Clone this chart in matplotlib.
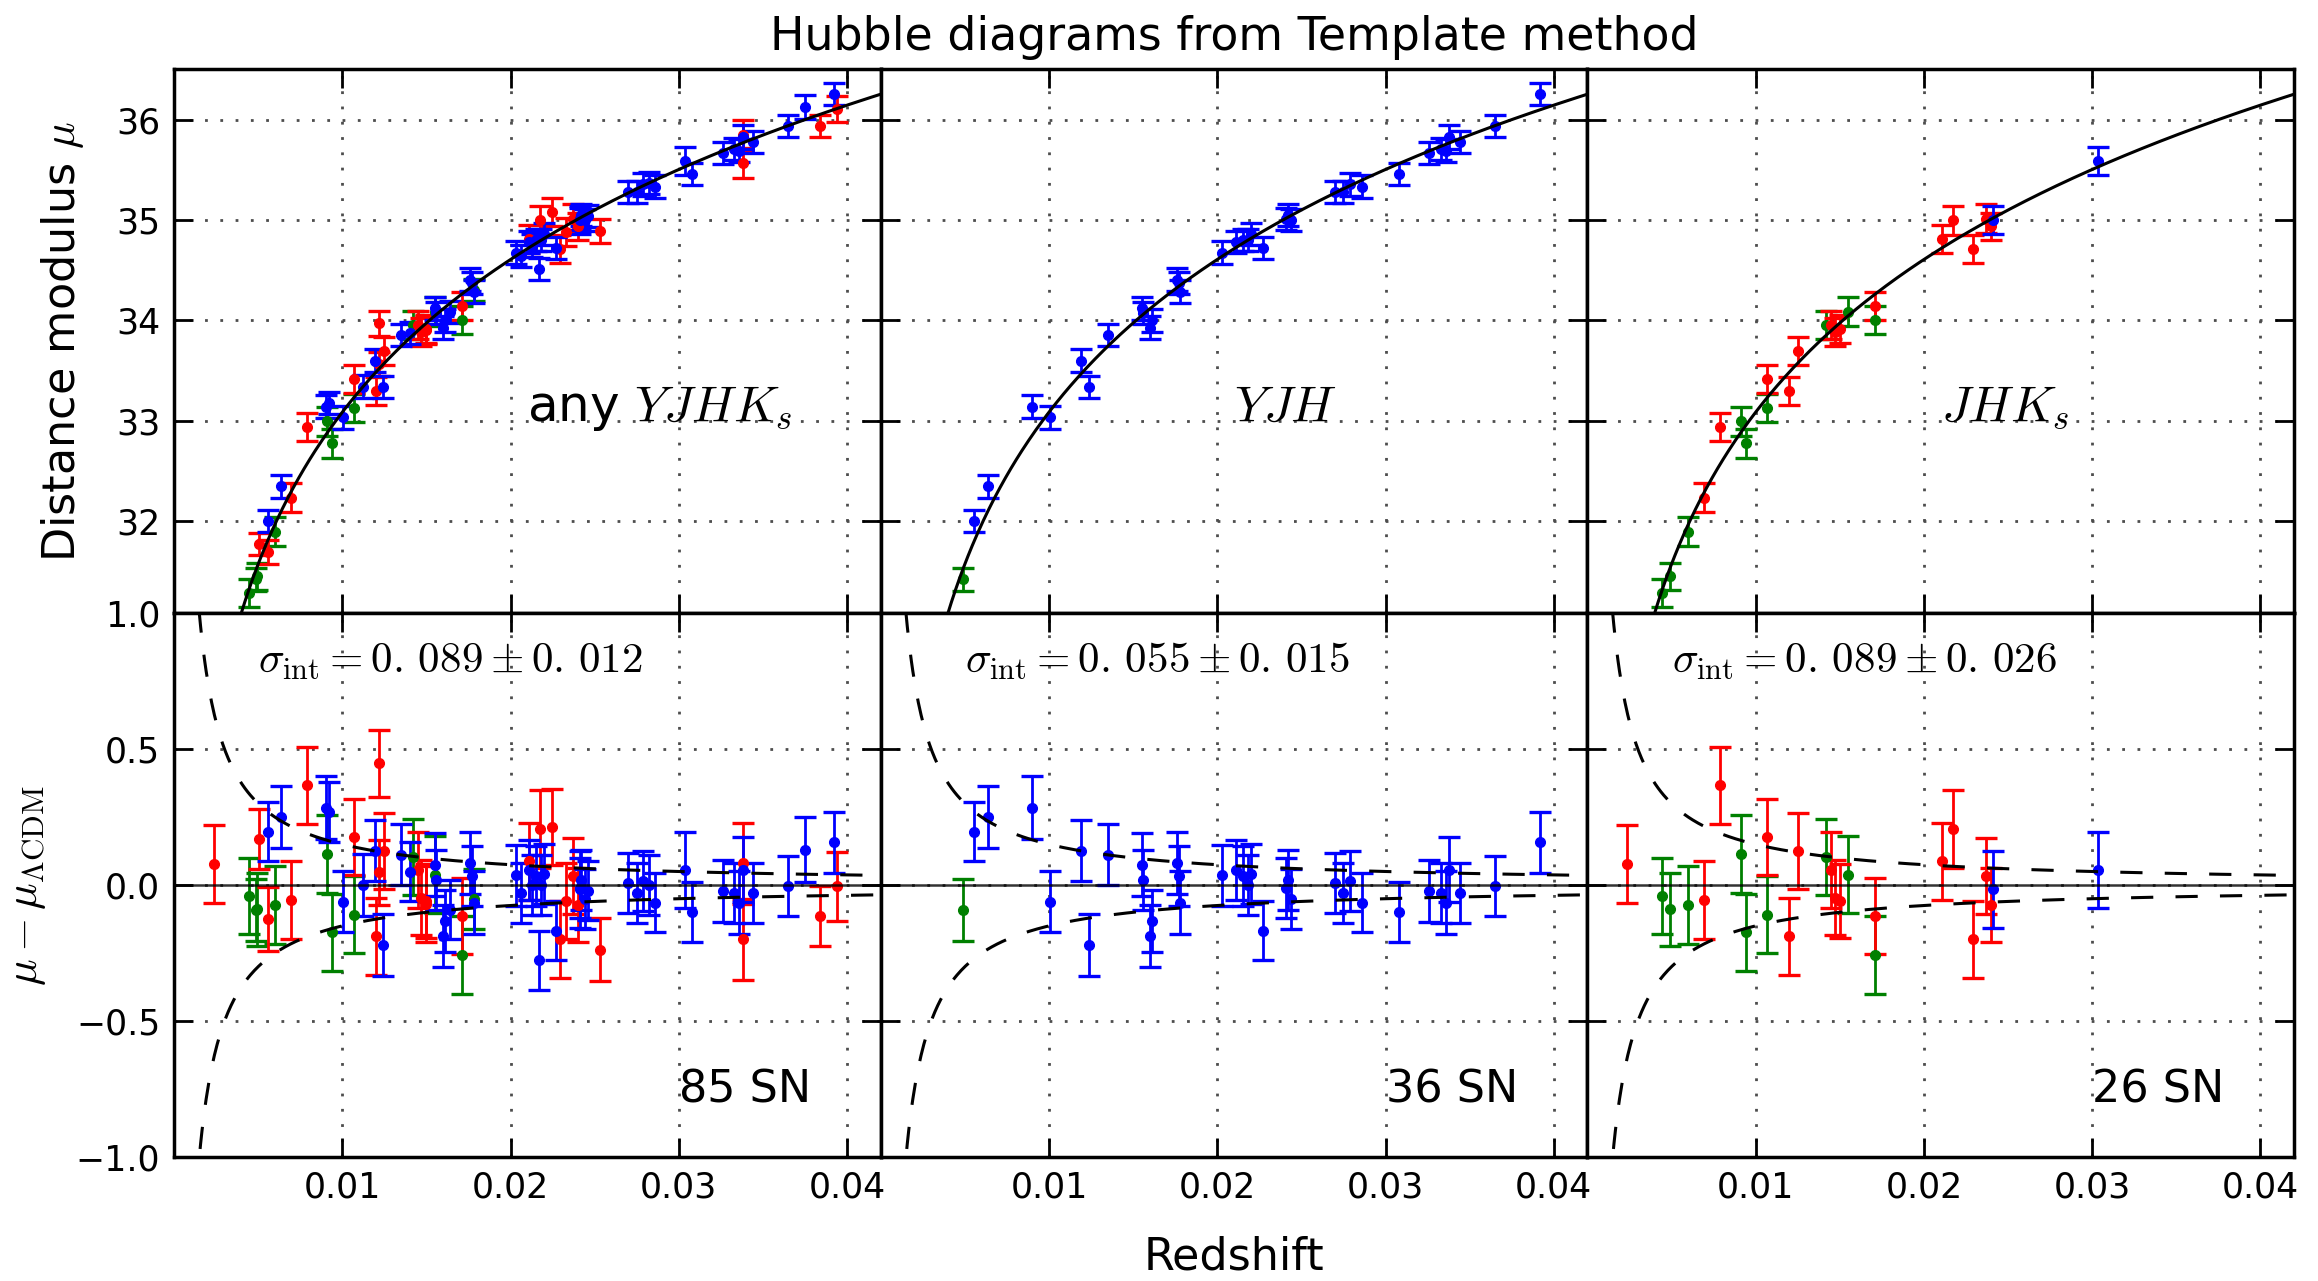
import numpy as np
import matplotlib
matplotlib.use("Agg")
import matplotlib.pyplot as plt

plt.rcParams['mathtext.fontset'] = 'cm'
plt.rcParams['font.family'] = ['DejaVu Sans']
plt.rcParams['lines.scale_dashes'] = False

# SNe with YJH light curves: redshift, Hubble residual, error, sample colour
z_yjh = [0.00486, 0.00556, 0.00635, 0.00900, 0.01004, 0.01193, 0.01239, 0.01350,
         0.01550, 0.01556, 0.01610, 0.01600, 0.01760, 0.01770, 0.01780, 0.02030,
         0.02110, 0.02150, 0.02180, 0.02200, 0.02270, 0.02410, 0.02420, 0.02440,
         0.02700, 0.02750, 0.02786, 0.02860, 0.03080, 0.03260, 0.03330, 0.03360,
         0.03380, 0.03440, 0.03650, 0.03920]
res_yjh = [-0.091, 0.197, 0.251, 0.285, -0.061, 0.127, -0.220, 0.112,
           0.075, 0.020, -0.131, -0.188, 0.081, 0.033, -0.064, 0.036,
           0.057, 0.033, 0.000, 0.040, -0.167, -0.010, 0.020, -0.050,
           0.008, -0.030, 0.015, -0.064, -0.100, -0.022, -0.030, -0.064,
           0.057, -0.028, -0.004, 0.157]
err_yjh = [0.114, 0.110, 0.114, 0.115, 0.113, 0.113, 0.113, 0.113,
           0.115, 0.110, 0.114, 0.113, 0.113, 0.110, 0.115, 0.112,
           0.110, 0.110, 0.110, 0.110, 0.110, 0.110, 0.110, 0.110,
           0.110, 0.110, 0.112, 0.110, 0.110, 0.113, 0.110, 0.115,
           0.120, 0.110, 0.110, 0.113]
col_yjh = ['g'] + ['b'] * 35

# SNe with JHKs light curves
z_jhk = [0.00237, 0.00446, 0.00492, 0.00600, 0.00695, 0.00790, 0.00910, 0.00940,
         0.01070, 0.01070, 0.01200, 0.01250, 0.01420, 0.01450, 0.01470, 0.01500,
         0.01550, 0.01710, 0.01710, 0.02107, 0.02175, 0.02294, 0.02370, 0.02400,
         0.02410, 0.03034]
res_jhk = [0.078, -0.040, -0.089, -0.074, -0.056, 0.367, 0.115, -0.174,
           0.178, -0.109, -0.189, 0.124, 0.103, 0.057, -0.046, -0.058,
           0.039, -0.115, -0.258, 0.087, 0.205, -0.200, 0.033, -0.074,
           -0.016, 0.055]
err_jhk = [0.143, 0.140, 0.135, 0.143, 0.143, 0.142, 0.143, 0.143,
           0.140, 0.141, 0.143, 0.140, 0.140, 0.140, 0.137, 0.137,
           0.143, 0.140, 0.143, 0.140, 0.143, 0.143, 0.140, 0.137,
           0.140, 0.140]
col_jhk = ['r', 'g', 'g', 'g', 'r', 'r', 'g', 'g',
           'r', 'g', 'r', 'r', 'g', 'r', 'r', 'r',
           'g', 'r', 'g', 'r', 'r', 'r', 'r', 'r',
           'b', 'b']

# remaining SNe that only enter the "any band" sample
z_oth = [0.00507, 0.00559, 0.00920, 0.01123, 0.01220, 0.01220, 0.01400, 0.01500,
         0.01640, 0.01780, 0.02060, 0.02130, 0.02170, 0.02246, 0.02330, 0.02460,
         0.02530, 0.02820, 0.03380, 0.03380, 0.03750, 0.03840, 0.03940]
res_oth = [0.169, -0.125, 0.270, 0.000, 0.448, 0.047, 0.050, -0.070,
           -0.090, -0.050, -0.030, 0.000, -0.277, 0.215, -0.060, -0.020,
           -0.237, 0.000, -0.200, 0.080, 0.130, -0.113, -0.004]
err_oth = [0.110, 0.117, 0.110, 0.115, 0.124, 0.120, 0.110, 0.140,
           0.110, 0.110, 0.110, 0.110, 0.110, 0.140, 0.140, 0.110,
           0.117, 0.110, 0.150, 0.150, 0.120, 0.110, 0.127]
col_oth = ['r', 'r', 'b', 'b', 'r', 'r', 'b', 'r',
           'b', 'g', 'b', 'b', 'b', 'r', 'r', 'b',
           'r', 'b', 'r', 'r', 'b', 'r', 'r']

panel_labels = ['any $YJHK_s$', '$YJH$', '$JHK_s$']
sigma_labels = [r'$\sigma_{\rm int} = 0.\,089 \pm 0.\,012$',
                r'$\sigma_{\rm int} = 0.\,055 \pm 0.\,015$',
                r'$\sigma_{\rm int} = 0.\,089 \pm 0.\,026$']
count_labels = ['85 SN', '36 SN', '26 SN']

colours = {'b': (0, 0, 1), 'r': (1, 0, 0), 'g': (0, 0.5, 0)}

c_kms = 299792.458
H0 = 73.0
q0 = -0.55
v_pec = 207.0


def mu_model(z):
    z = np.asarray(z)
    dl = c_kms * z / H0 * (1 + 0.5 * (1 - q0) * z)
    return 5 * np.log10(dl) + 25


samples = [
    (z_yjh + z_jhk + z_oth, res_yjh + res_jhk + res_oth,
     err_yjh + err_jhk + err_oth, col_yjh + col_jhk + col_oth),
    (z_yjh, res_yjh, err_yjh, col_yjh),
    (z_jhk, res_jhk, err_jhk, col_jhk),
]

fig = plt.figure(figsize=(23.18, 12.81), dpi=100)
gs = fig.add_gridspec(2, 3, left=0.0751, right=0.9897, top=0.9458,
                      bottom=0.0968, wspace=0, hspace=0)

zz = np.linspace(0.001, 0.042, 500)
env = 5 / np.log(10) * v_pec / (c_kms * zz)
grid_style = dict(color='0.3', linestyle=(0, (2, 9)), linewidth=2.0)

for j in range(3):
    ax_t = fig.add_subplot(gs[0, j])
    ax_b = fig.add_subplot(gs[1, j], sharex=ax_t)
    z, res, err, col = [np.asarray(a) for a in samples[j]]
    mu = mu_model(z) + res

    for key in ['g', 'r', 'b']:
        m = col == key
        if not m.any():
            continue
        kw = dict(fmt='o', color=colours[key], ms=7, elinewidth=2.0,
                  capsize=8, capthick=2.4, zorder=2)
        ax_t.errorbar(z[m], mu[m], yerr=err[m], **kw)
        ax_b.errorbar(z[m], res[m], yerr=err[m], **kw)

    ax_t.plot(zz, mu_model(zz), color='k', lw=2.2, zorder=3)
    ax_b.axhline(0, color='k', lw=1.8, alpha=0.8, zorder=3)
    ax_b.plot(zz, env, color='k', lw=2.2, linestyle=(0, (16, 16)), zorder=3)
    ax_b.plot(zz, -env, color='k', lw=2.2, linestyle=(0, (16, 16)), zorder=3)

    ax_t.set_xlim(0, 0.042)
    ax_t.set_ylim(31.08, 36.5)
    ax_b.set_ylim(-1.0, 1.0)
    ax_t.set_xticks([0.01, 0.02, 0.03, 0.04])
    ax_t.set_yticks([32, 33, 34, 35, 36])
    ax_b.set_yticks([-1.0, -0.5, 0.0, 0.5, 1.0])

    for ax in (ax_t, ax_b):
        ax.grid(True, **grid_style)
        ax.tick_params(direction='in', length=14, width=2.0, top=True,
                       right=True, labelsize=25, pad=10)
        for sp in ax.spines.values():
            sp.set_linewidth(2.5)
    ax_t.tick_params(labelbottom=False)
    if j > 0:
        ax_t.tick_params(labelleft=False)
        ax_b.tick_params(labelleft=False)

    ax_t.text(0.021, 33.0, panel_labels[j], fontsize=36)
    ax_b.text(0.005, 0.78, sigma_labels[j], fontsize=31)
    ax_b.text(0.03, -0.8, count_labels[j], fontsize=32)

    if j == 0:
        ax_t.set_ylabel(r'Distance modulus $\mu$', fontsize=32)
        ax_b.set_ylabel(r'$\mu - \mu_{\Lambda{\rm CDM}}$', fontsize=32)
        ax_t.yaxis.set_label_coords(-0.125, 0.5)
        ax_b.yaxis.set_label_coords(-0.178, 0.5)
    if j == 1:
        ax_t.set_title('Hubble diagrams from Template method', fontsize=33,
                       pad=14)
        ax_b.set_xlabel('Redshift', fontsize=32)
        ax_b.xaxis.set_label_coords(0.5, -0.145)

fig.savefig('out.png', dpi=100)
